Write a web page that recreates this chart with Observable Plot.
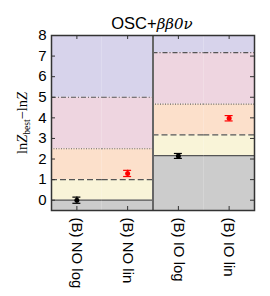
<!DOCTYPE html>
<html><head><meta charset="utf-8">
<script src="https://cdn.jsdelivr.net/npm/d3@7"></script>
<script src="https://cdn.jsdelivr.net/npm/@observablehq/plot@0.6"></script>
<style>body{margin:0;background:#fff;} svg{display:block;}</style>
</head><body><div id="c"></div>
<script>
const categories = ["(B) NO log", "(B) NO lin", "(B) IO log", "(B) IO lin"];
const groupOffsets = [0, 0, 2.17, 2.17];
const means = [0.0, 1.3, 2.15, 3.98];
const errors = [0.15, 0.15, 0.12, 0.13];
const pointColors = ["black", "red", "black", "red"];
const thresholds = [0, 1, 2.5, 5];
const bandColors = ["#cccccc", "#f9f4d8", "#fce0cb", "#eed5e0", "#d7d3eb"];
const yTicks = [0, 1, 2, 3, 4, 5, 6, 7, 8];
const yMin = -0.5, yMax = 8;

const rects = [];
categories.forEach((c, i) => {
  const edges = [yMin, ...thresholds.map(t => t + groupOffsets[i]), yMax];
  for (let k = 0; k < bandColors.length; k++) {
    rects.push({i, y1: edges[k], y2: Math.min(edges[k + 1], yMax), fill: bandColors[k]});
  }
});
const lineRows = k => categories.map((c, i) => ({i, y: thresholds[k] + groupOffsets[i]}));
const pts = categories.map((c, i) => ({x: i + 0.5, m: means[i], e: errors[i], col: pointColors[i]}));

const plot = Plot.plot({
  width: 270, height: 296,
  marginTop: 35, marginBottom: 86, marginLeft: 51, marginRight: 16,
  style: {fontFamily: "Liberation Sans, Arial, sans-serif", fontSize: "15px", background: "white", color: "black"},
  x: {type: "linear", domain: [0, 4], axis: null},
  y: {type: "linear", domain: [yMin, yMax], axis: null},
  marks: [
    Plot.rect(rects, {x1: "i", x2: d => d.i + 1, y1: "y1", y2: "y2", fill: d => d.fill}),
    Plot.ruleY(lineRows(0), {x1: "i", x2: d => d.i + 1, y: "y", stroke: "#555", strokeWidth: 1.2}),
    Plot.ruleY(lineRows(1), {x1: "i", x2: d => d.i + 1, y: "y", stroke: "#555", strokeWidth: 1.2, strokeDasharray: "6,3"}),
    Plot.ruleY(lineRows(2), {x1: "i", x2: d => d.i + 1, y: "y", stroke: "#666", strokeWidth: 1.2, strokeDasharray: "1,1.5"}),
    Plot.ruleY(lineRows(3), {x1: "i", x2: d => d.i + 1, y: "y", stroke: "#555", strokeWidth: 1.2, strokeDasharray: "5,2,1,2"}),
    Plot.ruleX([2], {stroke: "#666", strokeWidth: 2}),
    // inward ticks
    Plot.ruleY(yTicks, {y: d => d, x1: 0, x2: 0, insetRight: -4, stroke: "#333"}),
    Plot.ruleY(yTicks, {y: d => d, x1: 4, x2: 4, insetLeft: -4, stroke: "#333"}),
    Plot.ruleX(pts, {x: "x", y1: yMin, y2: yMin, insetTop: -4, stroke: "#333"}),
    Plot.ruleX(pts, {x: "x", y1: yMax, y2: yMax, insetBottom: -4, stroke: "#333"}),
    Plot.axisY(yTicks, {tickSize: 0, tickPadding: 5, fontSize: 15}),
    Plot.axisX(pts.map(d => d.x), {tickSize: 0, tickPadding: 7, tickRotate: 90, fontSize: 15,
      tickFormat: x => categories[Math.floor(x)]}),
    // error bars
    Plot.ruleX(pts, {x: "x", y1: d => d.m - d.e, y2: d => d.m + d.e, stroke: "col", strokeWidth: 1.2}),
    Plot.ruleY(pts, {y: d => d.m + d.e, x1: "x", x2: "x", insetLeft: -4, insetRight: -4, stroke: "col", strokeWidth: 1.2}),
    Plot.ruleY(pts, {y: d => d.m - d.e, x1: "x", x2: "x", insetLeft: -4, insetRight: -4, stroke: "col", strokeWidth: 1.2}),
    Plot.dot(pts, {x: "x", y: "m", fill: "col", r: 2.5}),
    Plot.frame({stroke: "#333", strokeWidth: 1.5})
  ]
});
document.getElementById("c").appendChild(plot);
const svg = d3.select(plot);
// title
const t = svg.append("text").attr("x", 152).attr("y", 29).attr("text-anchor", "middle")
  .style("font-size", "16.5px").style("font-family", "Liberation Sans, Arial, sans-serif").attr("fill", "black");
t.append("tspan").text("OSC+");
t.append("tspan").style("font-family", "DejaVu Serif, serif").style("font-style", "italic").style("font-size", "15px").text("ββ0ν");
// y label
const yl = svg.append("text").attr("transform", "translate(27,123) rotate(-90)").attr("text-anchor", "middle")
  .style("font-family", "Liberation Serif, 'DejaVu Serif', serif").style("font-size", "14.5px").attr("fill", "black");
yl.append("tspan").text("ln");
yl.append("tspan").style("font-style", "italic").text("Z");
yl.append("tspan").attr("dy", 3).style("font-size", "9.5px").text("best");
yl.append("tspan").attr("dy", -3).text("\u2212ln");
yl.append("tspan").style("font-style", "italic").text("Z");
</script></body></html>
